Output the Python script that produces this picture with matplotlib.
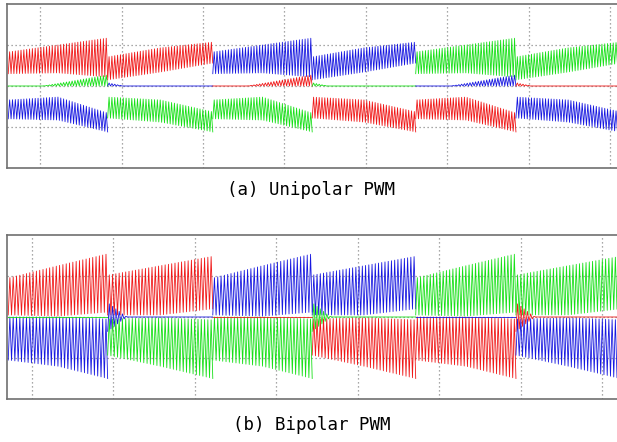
import matplotlib.pyplot as plt
import numpy as np

# commutation instants in grid divisions (same for both panels)
t_comm = [-0.39, 0.83, 2.12, 3.34, 4.61, 5.84, 7.12]

# phase roles in the six sectors
pos_phase = ["r", "r", "b", "b", "g", "g"]
neg_phase = ["b", "g", "g", "r", "r", "b"]
off_phase = ["g", "b", "r", "g", "b", "r"]

# envelopes at sector start / middle / end
env_frac = [0.0, 0.5, 1.0]

uni_pos_even_hi = [0.83, 1.00, 1.17]
uni_pos_even_lo = [0.30, 0.32, 0.22]
uni_neg_even_hi = [-0.34, -0.27, -0.66]
uni_neg_even_lo = [-0.80, -0.83, -1.12]
uni_pos_odd_hi = [0.71, 0.93, 1.07]
uni_pos_odd_lo = [0.15, 0.34, 0.56]
uni_neg_odd_hi = [-0.27, -0.34, -0.63]
uni_neg_odd_lo = [-0.78, -0.88, -1.12]
uni_off_even_frac = [0.0, 0.35, 1.0]
uni_off_even_hi = [0.0, 0.0, 0.27]
uni_off_odd_frac = [0.0, 0.15, 1.0]
uni_off_odd_hi = [0.08, 0.0, 0.0]

bi_pos_even_hi = [0.95, 1.25, 1.54]
bi_pos_even_lo = [0.05, 0.02, 0.12]
bi_neg_even_hi = [0.0, 0.0, -0.05]
bi_neg_even_lo = [-1.05, -1.20, -1.50]
bi_pos_odd_hi = [1.02, 1.25, 1.48]
bi_pos_odd_lo = [0.05, 0.05, 0.20]
bi_neg_odd_hi = [-0.05, -0.02, -0.07]
bi_neg_odd_lo = [-0.93, -1.20, -1.50]
bi_off_odd_frac = [0.0, 0.18, 1.0]
bi_off_odd_hi = [0.35, 0.0, 0.0]
bi_off_odd_lo = [-0.35, 0.0, 0.0]

# ripple teeth per grid division
uni_teeth = 29
bi_teeth = 25

grid_offset = [0.0, -0.1]
captions = ["(a) Unipolar PWM", "(b) Bipolar PWM"]
colors = {"r": "#f01818", "g": "#18e018", "b": "#1818e0"}


def ripple(t0, t1, n, frac, hi, lo):
    # valley / peak pairs following the envelopes
    tk = np.linspace(t0, t1, 2 * n + 1)
    f = (tk - t0) / (t1 - t0)
    y_hi = np.interp(f, frac, hi)
    y_lo = np.interp(f, frac, lo)
    y = np.where(np.arange(tk.size) % 2 == 0, y_lo, y_hi)
    return tk, y


def draw_panel(ax, mode):
    zero = [0.0, 0.0, 0.0]
    for k in range(6):
        t0, t1 = t_comm[k], t_comm[k + 1]
        even = (k % 2 == 0)
        if mode == "uni":
            n = int(round((t1 - t0) * uni_teeth))
            if even:
                parts = [(pos_phase[k], env_frac, uni_pos_even_hi, uni_pos_even_lo, 2),
                         (neg_phase[k], env_frac, uni_neg_even_hi, uni_neg_even_lo, 2),
                         (off_phase[k], uni_off_even_frac, uni_off_even_hi, zero, 3)]
            else:
                parts = [(pos_phase[k], env_frac, uni_pos_odd_hi, uni_pos_odd_lo, 2),
                         (neg_phase[k], env_frac, uni_neg_odd_hi, uni_neg_odd_lo, 2),
                         (off_phase[k], uni_off_odd_frac, uni_off_odd_hi, zero, 3)]
        else:
            n = int(round((t1 - t0) * bi_teeth))
            if even:
                parts = [(pos_phase[k], env_frac, bi_pos_even_hi, bi_pos_even_lo, 2),
                         (neg_phase[k], env_frac, bi_neg_even_hi, bi_neg_even_lo, 2),
                         (off_phase[k], env_frac, zero, zero, 3)]
            else:
                parts = [(pos_phase[k], env_frac, bi_pos_odd_hi, bi_pos_odd_lo, 2),
                         (neg_phase[k], env_frac, bi_neg_odd_hi, bi_neg_odd_lo, 2),
                         (off_phase[k], bi_off_odd_frac, bi_off_odd_hi, bi_off_odd_lo, 3)]
        for ph, frac, hi, lo, z in parts:
            t, y = ripple(t0, t1, n, frac, hi, lo)
            ax.plot(t, y, color=colors[ph], lw=0.6, zorder=z)


fig = plt.figure(figsize=(6.17, 4.42), dpi=100)
ax_top = fig.add_axes([7 / 617, 1 - 168 / 442, 1 - 7 / 617, 164 / 442])
ax_bot = fig.add_axes([7 / 617, 1 - 399 / 442, 1 - 7 / 617, 164 / 442])

for i, (ax, mode) in enumerate([(ax_top, "uni"), (ax_bot, "bi")]):
    draw_panel(ax, mode)
    ax.set_xlim(-0.405, 7.08)
    ax.set_ylim(-2, 2)
    ax.set_xticks(np.arange(8) + grid_offset[i])
    ax.set_yticks([-1, 0, 1])
    ax.grid(True, color="#8c8c8c", lw=0.9, linestyle=(0, (1, 2.2)), zorder=0)
    ax.set_axisbelow(True)
    ax.tick_params(length=0, labelbottom=False, labelleft=False)
    ax.spines["right"].set_visible(False)
    for s in ["left", "top", "bottom"]:
        ax.spines[s].set_color("#707070")
        ax.spines[s].set_linewidth(1.2)

fig.text(311 / 617, 1 - 190 / 442, captions[0], ha="center", va="center",
         family="DejaVu Sans Mono", fontsize=12.5)
fig.text(312 / 617, 1 - 425 / 442, captions[1], ha="center", va="center",
         family="DejaVu Sans Mono", fontsize=12.5)

fig.savefig("out.png", dpi=100)
